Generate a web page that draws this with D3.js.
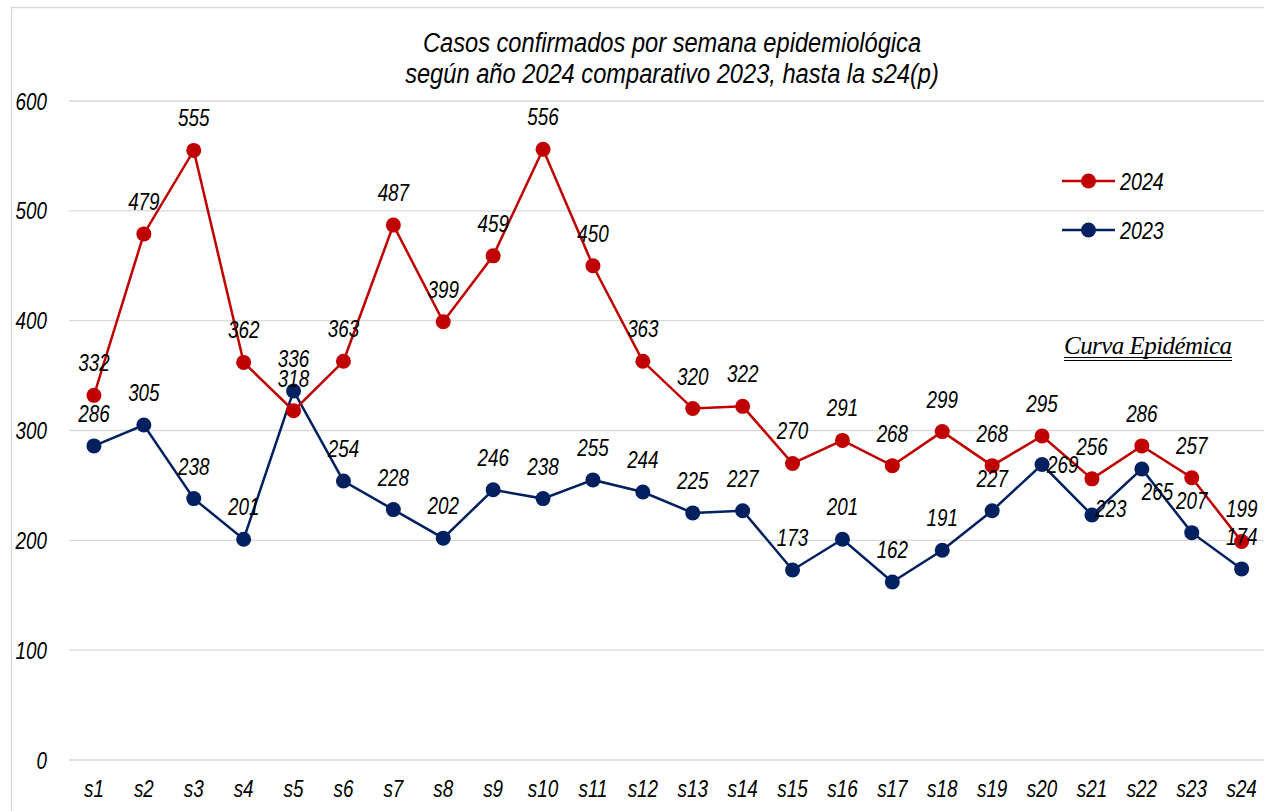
<!DOCTYPE html>
<html>
<head>
<meta charset="utf-8">
<script src="https://cdn.jsdelivr.net/npm/d3@7"></script>
<style>
  body { margin:0; background:#fff; }
  svg text { font-family:"Liberation Sans Narrow","Arial Narrow","Liberation Sans",sans-serif; font-style:italic; }
</style>
</head>
<body>
<svg id="chart"></svg>
<script>
const weeks = ['s1','s2','s3','s4','s5','s6','s7','s8','s9','s10','s11','s12','s13','s14','s15','s16','s17','s18','s19','s20','s21','s22','s23','s24'];
const cases2024 = [332,479,555,362,318,363,487,399,459,556,450,363,320,322,270,291,268,299,268,295,256,286,257,199];
const cases2023 = [286,305,238,201,336,254,228,202,246,238,255,244,225,227,173,201,162,191,227,269,223,265,207,174];
const yTicks = [0,100,200,300,400,500,600];

(function(){
    const W = 1264, H = 811;
    const NARROW = 0.82; // no Arial Narrow available, squeeze the sans instead
    const svg = d3.select('#chart').attr('width', W).attr('height', H);
    const margin = {top:101, left:69, bottom:51};
    const plotW = 24 * 49.9;
    const plotH = H - margin.top - margin.bottom;

    // chart frame
    svg.append('rect').attr('x',11.5).attr('y',7.5).attr('width',W).attr('height',H)
        .attr('fill','none').attr('stroke','#d9d9d9').attr('stroke-width',1.5);

    const g = svg.append('g').attr('transform',`translate(${margin.left},${margin.top})`);

    const x = d3.scaleBand().domain(weeks).range([0,plotW]);
    const y = d3.scaleLinear().domain([0,600]).range([plotH,0]);

    // gridlines
    g.append('g').selectAll('line').data(yTicks).join('line')
        .attr('x1',0).attr('x2',plotW).attr('y1',d=>y(d)).attr('y2',d=>y(d))
        .attr('stroke','#d9d9d9').attr('stroke-width',1.3);

    const yAxis = g.append('g').call(d3.axisLeft(y).tickValues(yTicks).tickSize(0).tickPadding(0));
    yAxis.select('.domain').remove();
    yAxis.selectAll('text').attr('x',null).attr('dy',null)
        .attr('transform',`translate(-22,8) scale(${NARROW},1)`)
        .style('font-size','23px').attr('fill','#000');

    const xAxis = g.append('g').attr('transform',`translate(0,${plotH})`)
        .call(d3.axisBottom(x).tickSize(0).tickPadding(0));
    xAxis.select('.domain').remove();
    xAxis.selectAll('text').attr('y',null).attr('dy',null)
        .attr('transform',`translate(0,37) scale(${NARROW},1)`)
        .style('font-size','23px').attr('fill','#000');

    const cx = (d,i) => x(weeks[i]) + x.bandwidth()/2;
    const line = d3.line().x((d,i)=>cx(d,i)).y(d=>y(d));

    const series = [
        {name:'2023', values:cases2023, color:'#002060'},
        {name:'2024', values:cases2024, color:'#C00000'}
    ];

    // labels that were nudged aside of their point (dx, dy from point, left aligned)
    const labelShift = {'2023': {19:[5,8], 20:[3,2], 21:[0,31]}};

    series.forEach(s=>{
        g.append('path').datum(s.values).attr('fill','none').attr('stroke',s.color)
            .attr('stroke-width',2.5).attr('d',line);
        g.append('g').selectAll('circle').data(s.values).join('circle')
            .attr('cx',cx).attr('cy',d=>y(d)).attr('r',7.5).attr('fill',s.color);
    });

    series.forEach(s=>{
        const shift = labelShift[s.name] || {};
        g.append('g').selectAll('text').data(s.values).join('text')
            .attr('transform',(d,i)=>{
                const tx = cx(d,i) + (shift[i] ? shift[i][0] : 0);
                const ty = y(d) + (shift[i] ? shift[i][1] : -24);
                return `translate(${tx},${ty}) scale(${NARROW},1)`;
            })
            .attr('text-anchor',(d,i)=> shift[i] ? 'start' : 'middle')
            .style('font-size','23px').attr('fill','#000')
            .text(d=>d);
    });

    // title
    const title = svg.append('text').attr('text-anchor','middle')
        .attr('transform','translate(672,0) scale(0.845,1)')
        .style('font-size','28px').attr('fill','#000');
    title.append('tspan').attr('x',0).attr('y',52).text('Casos confirmados por semana epidemiológica');
    title.append('tspan').attr('x',0).attr('y',83).text('según año 2024 comparativo 2023, hasta la s24(p)');

    // legend
    const legend = svg.append('g').attr('transform','translate(1062,0)');
    [{name:'2024',color:'#C00000',yy:181},{name:'2023',color:'#002060',yy:230}].forEach(l=>{
        legend.append('line').attr('x1',0).attr('x2',53).attr('y1',l.yy).attr('y2',l.yy)
            .attr('stroke',l.color).attr('stroke-width',2.5);
        legend.append('circle').attr('cx',26.5).attr('cy',l.yy).attr('r',7.5).attr('fill',l.color);
        legend.append('text').attr('transform',`translate(58,${l.yy+9}) scale(${NARROW},1)`)
            .style('font-size','24px').attr('fill','#000').text(l.name);
    });

    // annotation
    svg.append('text').attr('x',1064).attr('y',354)
        .style('font-family','"Liberation Serif","Times New Roman",serif').style('font-size','25px')
        .attr('textLength',168).attr('fill','#000').text('Curva Epidémica');
    svg.append('line').attr('x1',1064).attr('x2',1232).attr('y1',357.5).attr('y2',357.5).attr('stroke','#000').attr('stroke-width',1);
    svg.append('line').attr('x1',1064).attr('x2',1232).attr('y1',360.5).attr('y2',360.5).attr('stroke','#000').attr('stroke-width',1);
})();
</script>
</body>
</html>
